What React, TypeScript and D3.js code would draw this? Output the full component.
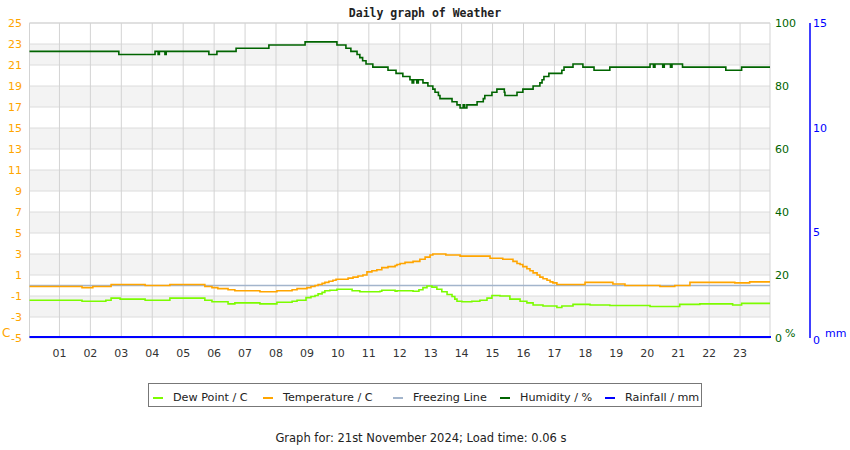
import React from "react";
import * as d3 from "d3";

// ---- Data (hours since midnight, step changes) ----
const hourLabels = ["01","02","03","04","05","06","07","08","09","10","11","12","13","14","15","16","17","18","19","20","21","22","23"];
const tempTicks = [25, 23, 21, 19, 17, 15, 13, 11, 9, 7, 5, 3, 1, -1, -3, -5];
const humTicks = [100, 80, 60, 40, 20, 0];
const rainTicks = [15, 10, 5, 0];

const humTimes = [0, 2.92, 4.09, 4.19, 4.23, 4.41, 4.45, 5.83, 6.09, 6.71, 7.77, 8.94, 9.97, 10.26, 10.42, 10.62, 10.71, 10.8, 10.91, 11.13, 11.62, 11.88, 12.1, 12.33, 12.4, 12.45, 12.55, 12.6, 12.75, 12.91, 13.07, 13.14, 13.25, 13.3, 13.69, 13.85, 13.95, 14.05, 14.1, 14.17, 14.5, 14.7, 14.75, 14.98, 15.14, 15.38, 15.4, 15.79, 15.98, 16.31, 16.53, 16.6, 16.66, 16.82, 17.24, 17.31, 17.6, 17.92, 18.28, 18.79, 20.09, 20.2, 20.25, 20.5, 20.55, 20.75, 20.8, 21.14, 22.54, 23.05, 24];
const humValues = [91, 90, 91, 90, 91, 90, 91, 90, 91, 92, 93, 94, 93, 92, 91, 90, 89, 88, 87, 86, 85, 84, 83, 82, 81, 82, 81, 82, 81, 80, 79, 78, 77, 76, 75, 74, 73, 74, 73, 74, 75, 76, 77, 78, 79, 78, 77, 78, 79, 80, 81, 82, 83, 84, 85, 86, 87, 86, 85, 86, 87, 86, 87, 86, 87, 86, 87, 86, 85, 86, 86];

const tempTimes = [0, 1.73, 2.08, 2.67, 3.77, 4.57, 5.7, 5.93, 6.12, 6.45, 6.67, 7.48, 8.03, 8.52, 8.68, 9.0, 9.13, 9.26, 9.36, 9.49, 9.58, 9.71, 9.84, 9.94, 10.33, 10.49, 10.65, 10.81, 10.94, 11.1, 11.26, 11.42, 11.62, 11.85, 11.91, 12.01, 12.17, 12.43, 12.65, 12.82, 12.98, 13.07, 13.49, 13.95, 14.92, 15.33, 15.66, 15.79, 15.89, 15.98, 16.11, 16.21, 16.31, 16.44, 16.53, 16.63, 16.76, 16.86, 16.95, 17.08, 17.99, 18.89, 19.28, 20.41, 20.89, 21.38, 22.83, 23.31, 24];
const tempValues = [-0.1, -0.2, -0.1, 0.1, 0.0, 0.1, -0.1, -0.2, -0.3, -0.4, -0.5, -0.6, -0.5, -0.4, -0.3, -0.2, -0.1, 0.0, 0.1, 0.2, 0.3, 0.4, 0.5, 0.6, 0.7, 0.8, 0.9, 1.0, 1.3, 1.4, 1.5, 1.7, 1.8, 1.9, 2.0, 2.1, 2.2, 2.3, 2.5, 2.7, 2.9, 3.0, 2.9, 2.8, 2.6, 2.5, 2.3, 2.1, 2.0, 1.8, 1.6, 1.4, 1.2, 1.0, 0.8, 0.65, 0.5, 0.35, 0.25, 0.1, 0.3, 0.15, 0.0, -0.1, 0.0, 0.3, 0.25, 0.35, 0.35];

const dewTimes = [0, 1.73, 2.5, 2.67, 2.96, 3.77, 4.57, 5.7, 5.93, 6.45, 6.67, 7.48, 8.03, 8.52, 8.68, 8.97, 9.13, 9.26, 9.36, 9.49, 9.58, 9.74, 9.97, 10.46, 10.71, 11.36, 11.42, 11.85, 11.91, 12.43, 12.62, 12.75, 12.88, 13.04, 13.2, 13.36, 13.53, 13.69, 13.78, 13.85, 14.01, 14.33, 14.59, 14.82, 14.98, 15.24, 15.56, 15.89, 16.11, 16.31, 16.63, 17.08, 17.24, 17.6, 18.15, 18.79, 20.09, 21.05, 21.7, 22.76, 23.05, 24];
const dewValues = [-1.4, -1.5, -1.4, -1.2, -1.3, -1.4, -1.2, -1.4, -1.55, -1.75, -1.65, -1.75, -1.6, -1.5, -1.4, -1.15, -1.05, -0.95, -0.8, -0.65, -0.5, -0.45, -0.35, -0.5, -0.6, -0.55, -0.45, -0.55, -0.5, -0.55, -0.4, -0.2, -0.05, -0.15, -0.35, -0.6, -0.85, -1.05, -1.3, -1.5, -1.55, -1.5, -1.4, -1.2, -0.95, -1.0, -1.3, -1.5, -1.65, -1.85, -1.95, -2.1, -1.95, -1.8, -1.85, -1.9, -2.0, -1.8, -1.75, -1.85, -1.7, -1.7];

const rainTimes = [0, 24];
const rainValues = [0, 0];
const freezeTimes = [0, 24];
const freezeValues = [0, 0];

const legendItems = [
  { label: "Dew Point / C", color: "#7cfc00" },
  { label: "Temperature / C", color: "#ffa500" },
  { label: "Freezing Line", color: "#a3b5cc" },
  { label: "Humidity / %", color: "#006400" },
  { label: "Rainfall / mm", color: "#0000ff" },
];

const W = 850, H = 450;
const L = 29.5, R = 770, T = 23, B = 338;
const FONT = "DejaVu Sans, sans-serif";

export default function App() {
  const x = d3.scaleLinear().domain([0, 24]).range([28.5, 771]);
  const yT = d3.scaleLinear().domain([-5, 25]).range([B, T]);
  const yH = d3.scaleLinear().domain([0, 100]).range([B, T]);
  const yR = d3.scaleLinear().domain([0, 15]).range([B - 1, T]);

  const mk = (ts: number[], vs: number[], ys: d3.ScaleLinear<number, number>) =>
    d3.line<number>().x((_, i) => x(ts[i])).y((v) => ys(v)).curve(d3.curveStepAfter)(vs) || "";

  const bands: number[] = [];
  for (let v = 21; v >= -3; v -= 4) bands.push(v);

  const legendX = [153, 263, 393, 500, 605];

  return (
    <svg width={W} height={H} style={{ position: "absolute", left: 0, top: 0 }} fontFamily={FONT}>
      <defs>
        <clipPath id="plot"><rect x={L} y={T} width={R - L} height={B - T} /></clipPath>
      </defs>
      <rect x={0} y={0} width={W} height={H} fill="#fff" />
      {bands.map((v) => (
        <rect key={v} x={L} y={yT(v + 2)} width={R - L} height={yT(v) - yT(v + 2)} fill="#f3f3f3" />
      ))}
      {tempTicks.map((v) => (
        <line key={"h" + v} x1={L} x2={R} y1={yT(v)} y2={yT(v)} stroke="#dcdcdc" strokeWidth={1} />
      ))}
      {hourLabels.map((l, i) => (
        <line key={"v" + l} x1={x(i + 1)} x2={x(i + 1)} y1={T} y2={B} stroke="#d3d3d3" strokeWidth={1} />
      ))}
      <line x1={L} x2={L} y1={T} y2={B} stroke="#d3d3d3" />
      <line x1={R} x2={R} y1={T} y2={B} stroke="#d3d3d3" />
      <line x1={L} x2={R} y1={T} y2={T} stroke="#d3d3d3" />

      <g clipPath="url(#plot)" fill="none" strokeWidth={1.6}>
        <path d={mk(freezeTimes, freezeValues, yT)} stroke="#a3b5cc" />
        <path d={mk(dewTimes, dewValues, yT)} stroke="#7cfc00" />
        <path d={mk(tempTimes, tempValues, yT)} stroke="#ffa500" />
        <path d={mk(humTimes, humValues, yH)} stroke="#006400" />
      </g>
      <path d={mk(rainTimes, rainValues, yR).replace(/M[\d.]+/, "M" + L).replace(/([\d.]+),([\d.]+)$/, R + ",$2")}
        stroke="#0000ff" strokeWidth={2} fill="none" />

      {/* left axis labels */}
      {tempTicks.map((v) => (
        <text key={"lt" + v} x={22} y={yT(v)} dy="0.35em" textAnchor="end" fontSize={11} fill="#ffa500">{v}</text>
      ))}
      <text x={2} y={337} fontSize={12} fill="#ffa500">C</text>

      {/* humidity axis */}
      {humTicks.map((v) => (
        <text key={"rh" + v} x={775} y={yH(v)} dy="0.35em" fontSize={11} fill="#006400">{v}</text>
      ))}
      <text x={785} y={337} fontSize={11} fill="#006400">%</text>

      {/* rain axis */}
      <line x1={810} x2={810} y1={T} y2={B} stroke="#0000ff" strokeWidth={1.5} />
      {rainTicks.map((v) => (
        <text key={"rr" + v} x={813} y={yR(v) + (v === 0 ? 3 : 0)} dy="0.35em" fontSize={11} fill="#0000ff">{v}</text>
      ))}
      <text x={825} y={337} fontSize={11} fill="#0000ff">mm</text>

      {/* x labels */}
      {hourLabels.map((l, i) => (
        <text key={"xl" + l} x={x(i + 1)} y={353} dy="0.35em" textAnchor="middle" fontSize={11} fill="#333">{l}</text>
      ))}

      {/* title */}
      <text x={425} y={13} dy="0.35em" textAnchor="middle" fontSize={11.5} fontWeight="bold"
        fontFamily="DejaVu Sans Mono, monospace" fill="#222">Daily graph of Weather</text>

      {/* legend */}
      <rect x={148.5} y={383.5} width={553} height={23} fill="#fff" stroke="#777" />
      {legendItems.map((it, i) => (
        <g key={it.label}>
          <line x1={legendX[i]} x2={legendX[i] + 10} y1={398} y2={398} stroke={it.color} strokeWidth={2} />
          <text x={legendX[i] + 20} y={397} dy="0.35em" fontSize={11.2} fill="#222">{it.label}</text>
        </g>
      ))}

      <text x={421} y={438} dy="0.35em" textAnchor="middle" fontSize={11.5} fill="#222">
        Graph for: 21st November 2024; Load time: 0.06 s
      </text>
    </svg>
  );
}
